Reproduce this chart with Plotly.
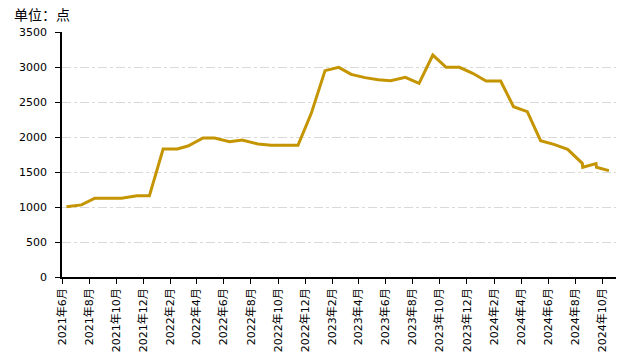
import plotly.graph_objects as go

dates = [
    "2021-06-11", "2021-07-15", "2021-08-14", "2021-09-14", "2021-10-13", "2021-11-17",
    "2021-12-15", "2022-01-15", "2022-02-16", "2022-03-12", "2022-04-15", "2022-05-11",
    "2022-06-14", "2022-07-12", "2022-08-17", "2022-09-16", "2022-10-15", "2022-11-15",
    "2022-12-15", "2023-01-15", "2023-02-15", "2023-03-15", "2023-04-15", "2023-05-15",
    "2023-06-12", "2023-07-15", "2023-08-15", "2023-09-15", "2023-10-15", "2023-11-14",
    "2023-12-14", "2024-01-13", "2024-02-15", "2024-03-15", "2024-04-15", "2024-05-15",
    "2024-06-14", "2024-07-15", "2024-08-17", "2024-08-18", "2024-09-17", "2024-09-18",
    "2024-10-16",
]
values = [
    1005, 1030, 1125, 1125, 1125, 1160,
    1160, 1829, 1829, 1871, 1986, 1986,
    1933, 1957, 1900, 1881, 1881, 1881,
    2338, 2948, 2995, 2895, 2848, 2819,
    2805, 2852, 2767, 3171, 2995, 2995,
    2910, 2800, 2800, 2433, 2362, 1948,
    1895, 1824, 1624, 1567, 1619, 1567,
    1519,
]

tick_dates = [
    "2021-06-01", "2021-08-01", "2021-10-01", "2021-12-01", "2022-02-01", "2022-04-01",
    "2022-06-01", "2022-08-01", "2022-10-01", "2022-12-01", "2023-02-01", "2023-04-01",
    "2023-06-01", "2023-08-01", "2023-10-01", "2023-12-01", "2024-02-01", "2024-04-01",
    "2024-06-01", "2024-08-01", "2024-10-01",
]
tick_labels = [
    "2021年6月", "2021年8月", "2021年10月", "2021年12月", "2022年2月", "2022年4月",
    "2022年6月", "2022年8月", "2022年10月", "2022年12月", "2023年2月", "2023年4月",
    "2023年6月", "2023年8月", "2023年10月", "2023年12月", "2024年2月", "2024年4月",
    "2024年6月", "2024年8月", "2024年10月",
]
y_ticks = [0, 500, 1000, 1500, 2000, 2500, 3000, 3500]

FONT = "DejaVu Sans, Noto Sans CJK SC, sans-serif"

fig = go.Figure()
fig.add_trace(go.Scatter(
    x=dates, y=values, mode="lines",
    line=dict(color="#C49500", width=3),
    hoverinfo="skip",
))

fig.update_layout(
    width=631, height=354,
    margin=dict(l=62, r=15, t=32, b=77, autoexpand=False),
    paper_bgcolor="white", plot_bgcolor="white",
    showlegend=False,
    font=dict(family=FONT, size=11, color="#000000"),
    annotations=[dict(
        text="单位：点", xref="paper", yref="paper", x=0, y=1,
        xshift=-50, yshift=7, xanchor="left", yanchor="bottom",
        showarrow=False, font=dict(size=14, color="#000000", family=FONT),
    )],
)
fig.update_xaxes(
    type="date", range=["2021-06-01", "2024-11-01"],
    tickmode="array", tickvals=tick_dates, ticktext=tick_labels,
    tickangle=-90, ticks="outside", ticklen=5, tickcolor="#000000",
    showline=True, linecolor="#000000", linewidth=1.5,
    showgrid=False, zeroline=False, automargin=False,
    tickfont=dict(size=11, color="#000000"),
)
fig.update_yaxes(
    range=[0, 3500], tickmode="array", tickvals=y_ticks,
    ticks="outside", ticklen=5, tickcolor="#000000",
    showline=True, linecolor="#000000", linewidth=1.5,
    showgrid=True, gridcolor="#D9D9D9", griddash="dashdot", gridwidth=1,
    zeroline=False, automargin=False, ticklabelstandoff=6,
    tickfont=dict(size=11, color="#000000"),
)

fig.write_html("out.html")
